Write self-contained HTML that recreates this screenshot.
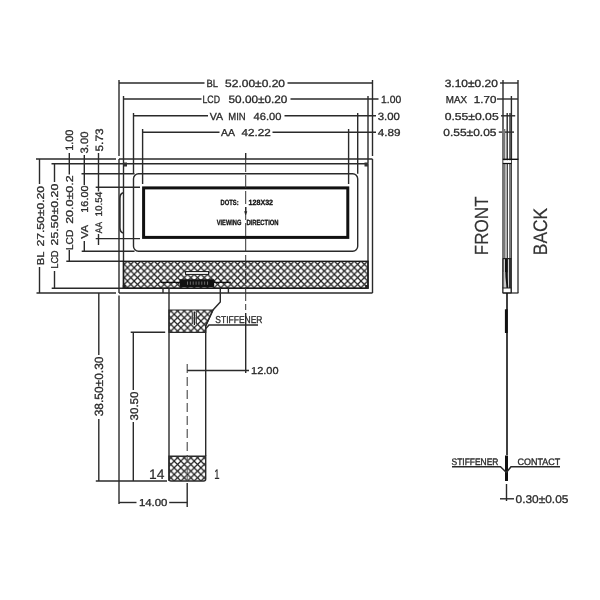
<!DOCTYPE html>
<html><head><meta charset="utf-8"><style>
html,body{margin:0;padding:0;background:#fff;width:600px;height:600px;overflow:hidden}
svg{display:block;will-change:transform}
text{font-family:"Liberation Sans",sans-serif}
</style></head><body>
<svg width="600" height="600" viewBox="0 0 600 600">
<defs>
<pattern id="hatch" patternUnits="userSpaceOnUse" width="6.67" height="6.67" x="127.5" y="261.0">
<path d="M0,0 L6.67,6.67 M6.67,0 L0,6.67" stroke="#1e1e1e" stroke-width="1.2"/>
</pattern>
</defs>
<rect width="600" height="600" fill="#fff"/>
<g stroke="#2a2a2a" stroke-width="1.4" fill="none">
<line x1="119" y1="80" x2="119" y2="156"/>
<line x1="372.5" y1="80" x2="372.5" y2="156"/>
<line x1="119" y1="83" x2="204.5" y2="83"/>
<line x1="287.5" y1="83" x2="372.5" y2="83"/>
<line x1="123.5" y1="96" x2="123.5" y2="163.7"/>
<line x1="368" y1="96" x2="368" y2="163.7"/>
<line x1="123.5" y1="99" x2="201.5" y2="99"/>
<line x1="290.5" y1="99" x2="378.5" y2="99"/>
<line x1="133.5" y1="113" x2="133.5" y2="173.7"/>
<line x1="357.7" y1="113" x2="357.7" y2="173.7"/>
<line x1="133.5" y1="115.7" x2="208" y2="115.7"/>
<line x1="284.5" y1="115.7" x2="376" y2="115.7"/>
<line x1="142.6" y1="129" x2="142.6" y2="184"/>
<line x1="348.6" y1="129" x2="348.6" y2="184"/>
<line x1="142.6" y1="132.2" x2="219.5" y2="132.2"/>
<line x1="272.5" y1="132.2" x2="376" y2="132.2"/>
<line x1="245.7" y1="153" x2="245.7" y2="159"/>
<line x1="36" y1="159" x2="116" y2="159"/>
<line x1="36.5" y1="293" x2="116" y2="293"/>
<line x1="39.5" y1="159" x2="39.5" y2="184"/>
<line x1="39.5" y1="267" x2="39.5" y2="293"/>
<line x1="51.5" y1="163.7" x2="123.5" y2="163.7"/>
<line x1="51.7" y1="288.3" x2="123.5" y2="288.3"/>
<line x1="54.5" y1="163.7" x2="54.5" y2="182"/>
<line x1="54.5" y1="271" x2="54.5" y2="288.3"/>
<line x1="66.3" y1="261.3" x2="123.5" y2="261.3"/>
<line x1="69.3" y1="153" x2="69.3" y2="174.5"/>
<line x1="69.3" y1="250" x2="69.3" y2="261.3"/>
<line x1="81.5" y1="173.7" x2="134.5" y2="173.7"/>
<line x1="81.7" y1="251.3" x2="134.5" y2="251.3"/>
<line x1="84.3" y1="155" x2="84.3" y2="185"/>
<line x1="84.3" y1="241" x2="84.3" y2="251.3"/>
<line x1="95.7" y1="187.2" x2="140" y2="187.2"/>
<line x1="95.7" y1="238.6" x2="140" y2="238.6"/>
<line x1="98.5" y1="153" x2="98.5" y2="191.5"/>
<line x1="98.5" y1="234" x2="98.5" y2="245"/>
<line x1="119" y1="159" x2="119" y2="293"/>
<line x1="372.5" y1="159" x2="372.5" y2="293"/>
<line x1="119" y1="159" x2="372.5" y2="159"/>
<line x1="119" y1="293" x2="372.5" y2="293"/>
<line x1="123.5" y1="163.7" x2="123.5" y2="288.3"/>
<line x1="368" y1="163.7" x2="368" y2="288.3"/>
<line x1="123.5" y1="163.7" x2="368" y2="163.7"/>
<line x1="123.5" y1="288.3" x2="368" y2="288.3"/>
<rect x="133.5" y="173.7" width="224.2" height="77.60000000000002" fill="none" stroke="#2a2a2a" stroke-width="1.4" rx="5"/>
<rect x="143.6" y="187.9" width="204.20000000000002" height="49.5" fill="none" stroke="#111" stroke-width="3" rx="0"/>
<path d="M123.3,192.8 Q119.9,193.6 119.9,198.5 L119.9,227.5 Q119.9,232.2 123.3,233" stroke-width="1.6" fill="none"/>
<rect x="123.5" y="261.3" width="244.5" height="27.0" fill="url(#hatch)" stroke="#1a1a1a" stroke-width="1.4" rx="0"/>
<rect x="123.5" y="162.5" width="3.5" height="4" fill="#333" stroke="none" stroke-width="1" rx="0"/>
<rect x="364.5" y="162.5" width="3.5" height="4" fill="#333" stroke="none" stroke-width="1" rx="0"/>
<rect x="122.8" y="285" width="3" height="4" fill="#222" stroke="none" stroke-width="1" rx="0"/>
<rect x="365.2" y="285" width="3" height="4" fill="#222" stroke="none" stroke-width="1" rx="0"/>
<rect x="185.6" y="271.6" width="23" height="2.8" fill="#fff" stroke="#111" stroke-width="1" rx="0"/>
<line x1="160.5" y1="282.3" x2="230.8" y2="282.3" stroke-width="1.2" stroke="#111"/>
<rect x="179.6" y="279.3" width="34.6" height="7.6" fill="#111" stroke="none" stroke-width="1" rx="0.8"/>
<line x1="187" y1="283.2" x2="210" y2="283.2" stroke-width="3.2" stroke="#fff" stroke-dasharray="0.7 2.2" stroke-opacity="0.55"/>
<line x1="245.7" y1="159" x2="245.7" y2="295" stroke-width="1" stroke="#333" stroke-dasharray="13 3"/>
<line x1="245.7" y1="207" x2="245.7" y2="213"/>
<path d="M244.5,211.5 L245.7,215 L246.9,211.5 Z" stroke-width="0.5" fill="#222"/>
<line x1="163" y1="288.3" x2="163" y2="293"/>
<line x1="169" y1="288.3" x2="169" y2="293"/>
<line x1="220.3" y1="288.3" x2="220.3" y2="293"/>
<line x1="228.4" y1="288.3" x2="228.4" y2="293"/>
<path d="M169,293 L169,481" fill="none"/>
<path d="M220.3,293 L220.3,302 L213,310 L205.7,326 L205.7,456" fill="none"/>
<path d="M169,310 L213,310 L205.7,326 L205.7,332.3 L169,332.3 Z" stroke-width="1.2" fill="url(#hatch)"/>
<rect x="191.3" y="312.5" width="5.8" height="11.5" fill="#fff" stroke="none" stroke-width="1" rx="0" fill-opacity="0.6"/>
<line x1="192.3" y1="312.5" x2="192.3" y2="324" stroke-width="1" stroke="#333"/>
<line x1="194.4" y1="311.5" x2="194.4" y2="325" stroke-width="1.2" stroke="#222"/>
<line x1="196.4" y1="312.5" x2="196.4" y2="324" stroke-width="1" stroke="#333"/>
<line x1="192.3" y1="318" x2="196.4" y2="318" stroke-width="0.8" stroke="#444"/>
<path d="M169,456.3 L205.7,456.3 L205.7,479 Q205.7,481 203.7,481 L171,481 Q169,481 169,479 Z" stroke-width="1.4" fill="url(#hatch)"/>
<line x1="187.2" y1="364" x2="187.2" y2="456" stroke-width="1" stroke="#333" stroke-dasharray="9 4"/>
<line x1="187.2" y1="456" x2="187.2" y2="481" stroke-width="1" stroke="#555" stroke-dasharray="7 3"/>
<line x1="187.2" y1="483" x2="187.2" y2="507"/>
<line x1="187.2" y1="370.5" x2="249" y2="370.5"/>
<line x1="245.7" y1="295" x2="245.7" y2="313" stroke-width="1" stroke="#333" stroke-dasharray="6 3"/>
<line x1="245.7" y1="313" x2="245.7" y2="373"/>
<path d="M205.9,328.5 L209,325 L258,325" fill="none"/>
<line x1="130.7" y1="332.3" x2="165.2" y2="332.3"/>
<line x1="133.3" y1="332.3" x2="133.3" y2="390"/>
<line x1="133.3" y1="422" x2="133.3" y2="481"/>
<line x1="95.8" y1="481" x2="167" y2="481"/>
<line x1="98.8" y1="293" x2="98.8" y2="355"/>
<line x1="98.8" y1="419" x2="98.8" y2="481"/>
<line x1="119" y1="295.5" x2="119" y2="504"/>
<line x1="119" y1="502.5" x2="136.5" y2="502.5"/>
<line x1="169.2" y1="502.5" x2="187.2" y2="502.5"/>
<line x1="503" y1="80" x2="503" y2="159"/>
<line x1="518" y1="80" x2="518" y2="159"/>
<line x1="511.4" y1="96" x2="511.4" y2="159"/>
<line x1="507.2" y1="113" x2="507.2" y2="159"/>
<line x1="510" y1="113" x2="510" y2="159"/>
<line x1="504.5" y1="129" x2="504.5" y2="159"/>
<line x1="500" y1="83" x2="518" y2="83"/>
<line x1="497" y1="99" x2="518" y2="99"/>
<line x1="501" y1="115.8" x2="515.2" y2="115.8"/>
<line x1="498.8" y1="132.1" x2="514" y2="132.1"/>
<rect x="502.2" y="129" width="2.8" height="30" fill="#777" stroke="none" stroke-width="1" rx="0"/>
<rect x="502" y="159" width="3" height="134" fill="#777" stroke="none" stroke-width="1" rx="0"/>
<rect x="505" y="159" width="2" height="134" fill="#b5b5b5" stroke="none" stroke-width="1" rx="0"/>
<rect x="507" y="159" width="1" height="134" fill="#444" stroke="none" stroke-width="1" rx="0"/>
<rect x="509" y="159" width="2" height="134" fill="#7a7a7a" stroke="none" stroke-width="1" rx="0"/>
<rect x="511" y="159" width="1" height="134" fill="#444" stroke="none" stroke-width="1" rx="0"/>
<rect x="517.2" y="159" width="1.6" height="134" fill="#555" stroke="none" stroke-width="1" rx="0"/>
<line x1="502.8" y1="159.3" x2="518.4" y2="159.3" stroke-width="1.4" stroke="#111"/>
<rect x="503.5" y="160.3" width="7.5" height="2.7" fill="#fff" stroke="none" stroke-width="1" rx="0"/>
<line x1="502.8" y1="163.5" x2="511.5" y2="163.5" stroke-width="1.2" stroke="#111"/>
<rect x="503.5" y="258.3" width="3" height="14" fill="#fff" stroke="none" stroke-width="1" rx="0"/>
<rect x="504.8" y="258.3" width="2.8" height="14" fill="#111" stroke="none" stroke-width="1" rx="0"/>
<rect x="502.3" y="258.3" width="1.4" height="30" fill="#333" stroke="none" stroke-width="1" rx="0"/>
<rect x="503.7" y="272" width="2.5" height="16" fill="#c8c8c8" stroke="none" stroke-width="1" rx="0"/>
<path d="M506.2,272 C506.2,280 507.3,283 507.4,288.5" stroke-width="1.8" stroke="#111" fill="none"/>
<rect x="508.8" y="258.3" width="2.8" height="30" fill="#333" stroke="none" stroke-width="1" rx="0"/>
<line x1="503" y1="258.6" x2="511.5" y2="258.6" stroke-width="1.2" stroke="#222"/>
<rect x="503" y="288" width="8" height="5" fill="#fff" stroke="#222" stroke-width="1" rx="0"/>
<line x1="502.8" y1="293" x2="518.4" y2="293" stroke-width="1.2" stroke="#222"/>
<line x1="507" y1="293" x2="507" y2="455" stroke-width="1.6" stroke="#111"/>
<line x1="506.3" y1="309.3" x2="506.3" y2="333" stroke-width="2.8" stroke="#111"/>
<line x1="506.5" y1="455.5" x2="506.5" y2="481" stroke-width="3" stroke="#111"/>
<line x1="506.5" y1="484" x2="506.5" y2="501"/>
<line x1="500" y1="498.8" x2="514" y2="498.8"/>
<path d="M452,466.8 L500.5,466.8 L506.4,472.5 L511,466.8 L560,466.8" stroke-width="1.5" fill="none"/>
</g>
<g>
<text style="white-space:pre;text-rendering:geometricPrecision" transform="translate(206.39,87.10) scale(0.903,1.000)" font-size="10.43" font-weight="400" fill="#2a2a2a" stroke="#2a2a2a" stroke-width="0.3">BL</text>
<text style="white-space:pre;text-rendering:geometricPrecision" transform="translate(225.11,87.10) scale(1.150,1.000)" font-size="10.43" font-weight="400" fill="#2a2a2a" stroke="#2a2a2a" stroke-width="0.3">52.00±0.20</text>
<text style="white-space:pre;text-rendering:geometricPrecision" transform="translate(202.48,102.50) scale(0.820,1.000)" font-size="10.71" font-weight="400" fill="#2a2a2a" stroke="#2a2a2a" stroke-width="0.3">LCD</text>
<text style="white-space:pre;text-rendering:geometricPrecision" transform="translate(228.52,102.50) scale(1.101,1.000)" font-size="10.71" font-weight="400" fill="#2a2a2a" stroke="#2a2a2a" stroke-width="0.3">50.00±0.20</text>
<text style="white-space:pre;text-rendering:geometricPrecision" transform="translate(209.67,119.90) scale(1.029,1.000)" font-size="10.29" font-weight="400" fill="#2a2a2a" stroke="#2a2a2a" stroke-width="0.3">VA</text>
<text style="white-space:pre;text-rendering:geometricPrecision" transform="translate(228.24,119.90) scale(0.922,1.000)" font-size="10.29" font-weight="400" fill="#2a2a2a" stroke="#2a2a2a" stroke-width="0.3">MIN</text>
<text style="white-space:pre;text-rendering:geometricPrecision" transform="translate(253.58,119.90) scale(1.084,1.000)" font-size="10.29" font-weight="400" fill="#2a2a2a" stroke="#2a2a2a" stroke-width="0.3">46.00</text>
<text style="white-space:pre;text-rendering:geometricPrecision" transform="translate(221.00,135.90) scale(1.038,1.000)" font-size="10.14" font-weight="400" fill="#2a2a2a" stroke="#2a2a2a" stroke-width="0.3">AA</text>
<text style="white-space:pre;text-rendering:geometricPrecision" transform="translate(241.57,135.90) scale(1.153,1.000)" font-size="10.14" font-weight="400" fill="#2a2a2a" stroke="#2a2a2a" stroke-width="0.3">42.22</text>
<text style="white-space:pre;text-rendering:geometricPrecision" transform="translate(381.09,103.00) scale(0.992,1.000)" font-size="10.43" font-weight="400" fill="#2a2a2a" stroke="#2a2a2a" stroke-width="0.3">1.00</text>
<text style="white-space:pre;text-rendering:geometricPrecision" transform="translate(377.71,119.70) scale(1.075,1.000)" font-size="10.57" font-weight="400" fill="#2a2a2a" stroke="#2a2a2a" stroke-width="0.3">3.00</text>
<text style="white-space:pre;text-rendering:geometricPrecision" transform="translate(377.77,135.60) scale(1.154,1.000)" font-size="10.14" font-weight="400" fill="#2a2a2a" stroke="#2a2a2a" stroke-width="0.3">4.89</text>
<text style="white-space:pre;text-rendering:geometricPrecision" transform="translate(444.71,87.10) scale(1.133,1.000)" font-size="10.57" font-weight="400" fill="#2a2a2a" stroke="#2a2a2a" stroke-width="0.3">3.10±0.20</text>
<text style="white-space:pre;text-rendering:geometricPrecision" transform="translate(445.77,102.80) scale(0.969,1.000)" font-size="10.14" font-weight="400" fill="#2a2a2a" stroke="#2a2a2a" stroke-width="0.3">MAX</text>
<text style="white-space:pre;text-rendering:geometricPrecision" transform="translate(473.86,102.80) scale(1.143,1.000)" font-size="10.14" font-weight="400" fill="#2a2a2a" stroke="#2a2a2a" stroke-width="0.3">1.70</text>
<text style="white-space:pre;text-rendering:geometricPrecision" transform="translate(444.71,119.90) scale(1.199,1.000)" font-size="10.14" font-weight="400" fill="#2a2a2a" stroke="#2a2a2a" stroke-width="0.3">0.55±0.05</text>
<text style="white-space:pre;text-rendering:geometricPrecision" transform="translate(443.32,136.10) scale(1.164,1.000)" font-size="10.29" font-weight="400" fill="#2a2a2a" stroke="#2a2a2a" stroke-width="0.3">0.55±0.05</text>
<text style="white-space:pre;text-rendering:geometricPrecision" transform="translate(451.58,465.00) scale(0.895,1.000)" font-size="9.43" font-weight="400" fill="#2a2a2a" stroke="#2a2a2a" stroke-width="0.35">STIFFENER</text>
<text style="white-space:pre;text-rendering:geometricPrecision" transform="translate(517.55,465.00) scale(0.950,1.000)" font-size="9.43" font-weight="400" fill="#2a2a2a" stroke="#2a2a2a" stroke-width="0.35">CONTACT</text>
<text style="white-space:pre;text-rendering:geometricPrecision" transform="translate(515.52,502.80) scale(1.070,1.000)" font-size="11.14" font-weight="400" fill="#2a2a2a" stroke="#2a2a2a" stroke-width="0.3">0.30±0.05</text>
<text style="white-space:pre;text-rendering:geometricPrecision" transform="translate(138.88,506.30) scale(1.127,1.000)" font-size="10.14" font-weight="400" fill="#2a2a2a" stroke="#2a2a2a" stroke-width="0.3">14.00</text>
<text style="white-space:pre;text-rendering:geometricPrecision" transform="translate(149.06,479.20) scale(0.998,1.000)" font-size="13.86" font-weight="400" fill="#2a2a2a" stroke="#2a2a2a" stroke-width="0.2">14</text>
<text style="white-space:pre;text-rendering:geometricPrecision" transform="translate(214.24,479.20) scale(0.688,1.000)" font-size="13.86" font-weight="400" fill="#2a2a2a" stroke="#2a2a2a" stroke-width="0.2">1</text>
<text style="white-space:pre;text-rendering:geometricPrecision" transform="translate(251.05,374.00) scale(1.097,1.000)" font-size="10.00" font-weight="400" fill="#2a2a2a" stroke="#2a2a2a" stroke-width="0.3">12.00</text>
<text style="white-space:pre;text-rendering:geometricPrecision" transform="translate(215.37,323.00) scale(0.848,1.000)" font-size="10.00" font-weight="400" fill="#2a2a2a" stroke="#2a2a2a" stroke-width="0.3">STIFFENER</text>
<text style="white-space:pre;text-rendering:geometricPrecision" transform="translate(220.54,205.00) scale(0.768,1.000)" font-size="7.57" font-weight="700" fill="#111" stroke="#111" stroke-width="0.3">DOTS:</text>
<text style="white-space:pre;text-rendering:geometricPrecision" transform="translate(248.56,205.00) scale(0.939,1.000)" font-size="7.57" font-weight="700" fill="#111" stroke="#111" stroke-width="0.3">128X32</text>
<text style="white-space:pre;text-rendering:geometricPrecision" transform="translate(216.73,224.50) scale(0.751,1.000)" font-size="7.57" font-weight="700" fill="#111" stroke="#111" stroke-width="0.3">VIEWING</text>
<text style="white-space:pre;text-rendering:geometricPrecision" transform="translate(246.38,224.50) scale(0.774,1.000)" font-size="7.57" font-weight="700" fill="#111" stroke="#111" stroke-width="0.3">DIRECTION</text>
<text style="white-space:pre;text-rendering:geometricPrecision" transform="translate(43.50,265.34) rotate(-90) scale(1.121,1.000)" font-size="10.00" font-weight="400" fill="#2a2a2a" stroke="#2a2a2a" stroke-width="0.3">BL</text>
<text style="white-space:pre;text-rendering:geometricPrecision" transform="translate(43.50,246.61) rotate(-90) scale(1.214,1.000)" font-size="10.00" font-weight="400" fill="#2a2a2a" stroke="#2a2a2a" stroke-width="0.3">27.50±0.20</text>
<text style="white-space:pre;text-rendering:geometricPrecision" transform="translate(58.00,268.56) rotate(-90) scale(0.903,1.000)" font-size="10.00" font-weight="400" fill="#2a2a2a" stroke="#2a2a2a" stroke-width="0.3">LCD</text>
<text style="white-space:pre;text-rendering:geometricPrecision" transform="translate(58.00,245.42) rotate(-90) scale(1.234,1.000)" font-size="10.00" font-weight="400" fill="#2a2a2a" stroke="#2a2a2a" stroke-width="0.3">25.50±0.20</text>
<text style="white-space:pre;text-rendering:geometricPrecision" transform="translate(73.00,250.05) rotate(-90) scale(1.019,1.000)" font-size="10.00" font-weight="400" fill="#2a2a2a" stroke="#2a2a2a" stroke-width="0.3">LCD</text>
<text style="white-space:pre;text-rendering:geometricPrecision" transform="translate(73.00,223.83) rotate(-90) scale(1.246,1.000)" font-size="10.00" font-weight="400" fill="#2a2a2a" stroke="#2a2a2a" stroke-width="0.3">20.0±0.2</text>
<text style="white-space:pre;text-rendering:geometricPrecision" transform="translate(88.00,238.72) rotate(-90) scale(1.106,1.000)" font-size="10.00" font-weight="400" fill="#2a2a2a" stroke="#2a2a2a" stroke-width="0.3">VA</text>
<text style="white-space:pre;text-rendering:geometricPrecision" transform="translate(88.00,212.69) rotate(-90) scale(1.085,1.000)" font-size="10.00" font-weight="400" fill="#2a2a2a" stroke="#2a2a2a" stroke-width="0.3">16.00</text>
<text style="white-space:pre;text-rendering:geometricPrecision" transform="translate(102.00,233.23) rotate(-90) scale(0.882,1.000)" font-size="9.57" font-weight="400" fill="#2a2a2a" stroke="#2a2a2a" stroke-width="0.3">AA</text>
<text style="white-space:pre;text-rendering:geometricPrecision" transform="translate(102.00,216.62) rotate(-90) scale(1.041,1.000)" font-size="9.57" font-weight="400" fill="#2a2a2a" stroke="#2a2a2a" stroke-width="0.3">10.54</text>
<text style="white-space:pre;text-rendering:geometricPrecision" transform="translate(73.00,150.87) rotate(-90) scale(1.020,1.000)" font-size="10.71" font-weight="400" fill="#2a2a2a" stroke="#2a2a2a" stroke-width="0.3">1.00</text>
<text style="white-space:pre;text-rendering:geometricPrecision" transform="translate(88.00,153.45) rotate(-90) scale(1.048,1.000)" font-size="10.71" font-weight="400" fill="#2a2a2a" stroke="#2a2a2a" stroke-width="0.3">3.00</text>
<text style="white-space:pre;text-rendering:geometricPrecision" transform="translate(102.50,151.47) rotate(-90) scale(1.105,1.000)" font-size="10.71" font-weight="400" fill="#2a2a2a" stroke="#2a2a2a" stroke-width="0.3">5.73</text>
<text style="white-space:pre;text-rendering:geometricPrecision" transform="translate(103.00,416.29) rotate(-90) scale(1.008,1.000)" font-size="11.86" font-weight="400" fill="#2a2a2a" stroke="#2a2a2a" stroke-width="0.3">38.50±0.30</text>
<text style="white-space:pre;text-rendering:geometricPrecision" transform="translate(137.50,420.46) rotate(-90) scale(1.038,1.000)" font-size="11.14" font-weight="400" fill="#2a2a2a" stroke="#2a2a2a" stroke-width="0.3">30.50</text>
<text style="white-space:pre;text-rendering:geometricPrecision" transform="translate(488.30,255.17) rotate(-90) scale(0.898,1.000)" font-size="19.00" font-weight="400" fill="#333" stroke="#333" stroke-width="0.15">FRONT</text>
<text style="white-space:pre;text-rendering:geometricPrecision" transform="translate(547.00,255.21) rotate(-90) scale(0.890,1.000)" font-size="19.57" font-weight="400" fill="#333" stroke="#333" stroke-width="0.15">BACK</text>
</g>
</svg>
</body></html>
